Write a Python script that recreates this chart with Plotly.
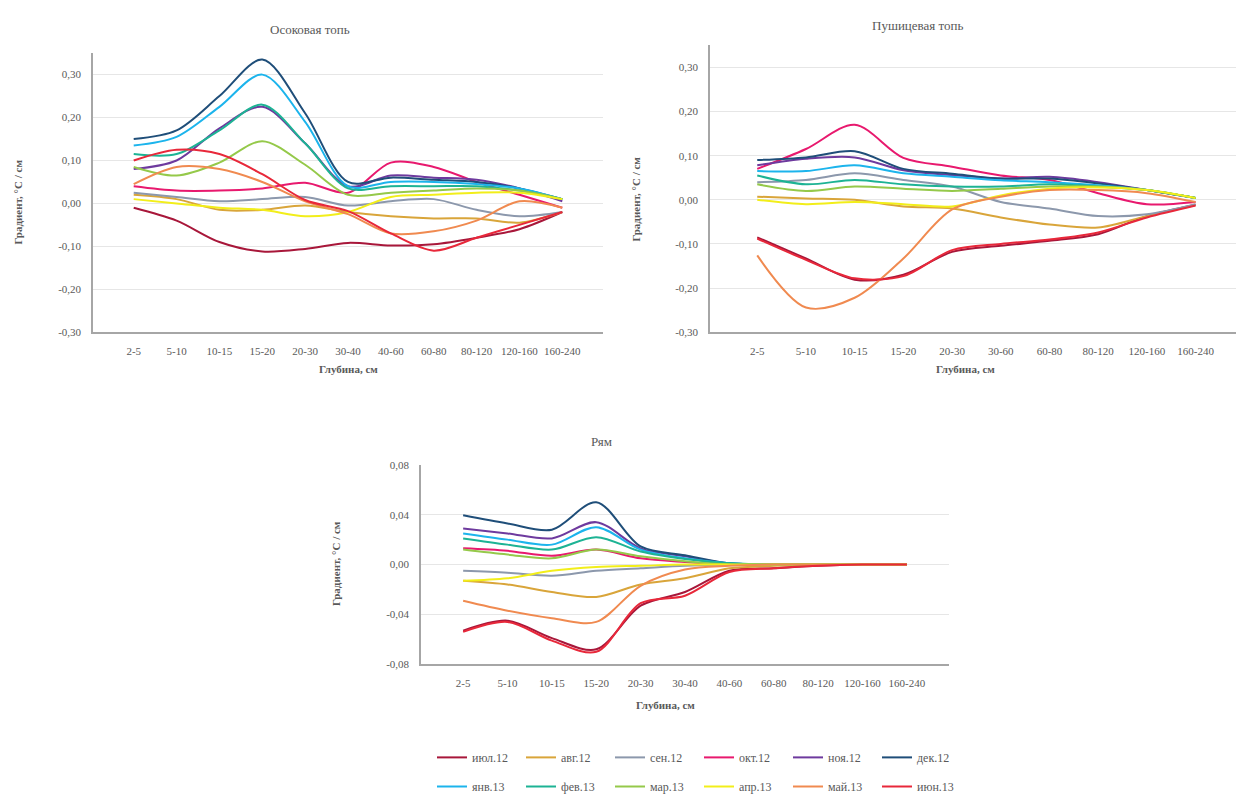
import plotly.graph_objects as go

# ---------------- data ----------------
months = ["июл.12", "авг.12", "сен.12", "окт.12", "ноя.12", "дек.12",
          "янв.13", "фев.13", "мар.13", "апр.13", "май.13", "июн.13"]
colors = ["#A8173A", "#D9A53A", "#8C98AC", "#E8196E", "#6E3A9E", "#1F4E79",
          "#1CB4EC", "#1DB394", "#95C94A", "#F2EE1A", "#F08A50", "#E8283A"]

depth_sedge = ["2-5", "5-10", "10-15", "15-20", "20-30", "30-40", "40-60",
               "60-80", "80-120", "120-160", "160-240"]
depth_cotton = ["2-5", "5-10", "10-15", "15-20", "20-30", "30-60", "60-80",
                "80-120", "120-160", "160-240"]
depth_ryam = ["2-5", "5-10", "10-15", "15-20", "20-30", "30-40", "40-60",
              "60-80", "80-120", "120-160", "160-240"]

# Осоковая топь
sedge_jul12 = [-0.01, -0.04, -0.09, -0.112, -0.106, -0.092, -0.098, -0.095, -0.08, -0.06, -0.02]
sedge_aug12 = [0.02, 0.01, -0.015, -0.015, -0.005, -0.02, -0.03, -0.035, -0.035, -0.045, -0.02]
sedge_sep12 = [0.025, 0.015, 0.005, 0.01, 0.015, -0.005, 0.005, 0.01, -0.015, -0.03, -0.02]
sedge_oct12 = [0.04, 0.03, 0.03, 0.035, 0.048, 0.025, 0.095, 0.085, 0.05, 0.02, -0.01]
sedge_nov12 = [0.08, 0.10, 0.175, 0.225, 0.14, 0.04, 0.065, 0.06, 0.055, 0.035, 0.005]
sedge_dec12 = [0.15, 0.17, 0.25, 0.335, 0.21, 0.05, 0.06, 0.055, 0.05, 0.035, 0.01]
sedge_jan13 = [0.135, 0.155, 0.225, 0.30, 0.19, 0.04, 0.05, 0.05, 0.045, 0.035, 0.01]
sedge_feb13 = [0.115, 0.115, 0.17, 0.23, 0.14, 0.035, 0.04, 0.04, 0.04, 0.03, 0.01]
sedge_mar13 = [0.085, 0.065, 0.095, 0.145, 0.09, 0.02, 0.025, 0.03, 0.035, 0.03, 0.01]
sedge_apr13 = [0.01, 0.0, -0.01, -0.015, -0.03, -0.02, 0.015, 0.02, 0.025, 0.025, 0.01]
sedge_may13 = [0.045, 0.085, 0.08, 0.05, 0.005, -0.025, -0.07, -0.065, -0.04, 0.005, -0.01]
sedge_jun13 = [0.10, 0.125, 0.115, 0.068, 0.008, -0.018, -0.07, -0.11, -0.08, -0.05, -0.02]

# Пушицевая топь
cotton_jul12 = [-0.085, -0.133, -0.181, -0.17, -0.118, -0.104, -0.093, -0.078, -0.037, -0.011]
cotton_aug12 = [0.007, 0.003, 0.0, -0.015, -0.02, -0.04, -0.056, -0.063, -0.037, -0.012]
cotton_sep12 = [0.04, 0.045, 0.06, 0.045, 0.03, -0.005, -0.02, -0.037, -0.033, -0.01]
cotton_oct12 = [0.07, 0.115, 0.17, 0.095, 0.075, 0.055, 0.045, 0.015, -0.01, -0.005]
cotton_nov12 = [0.078, 0.093, 0.096, 0.067, 0.056, 0.048, 0.052, 0.04, 0.022, 0.004]
cotton_dec12 = [0.09, 0.096, 0.11, 0.07, 0.059, 0.048, 0.048, 0.037, 0.022, 0.004]
cotton_jan13 = [0.065, 0.065, 0.078, 0.06, 0.052, 0.044, 0.04, 0.033, 0.022, 0.004]
cotton_feb13 = [0.055, 0.035, 0.045, 0.035, 0.03, 0.03, 0.035, 0.03, 0.022, 0.004]
cotton_mar13 = [0.035, 0.02, 0.03, 0.025, 0.02, 0.025, 0.03, 0.03, 0.022, 0.004]
cotton_apr13 = [0.0, -0.01, -0.005, -0.01, -0.015, 0.01, 0.025, 0.028, 0.022, 0.004]
cotton_may13 = [-0.126, -0.244, -0.222, -0.133, -0.022, 0.007, 0.022, 0.022, 0.015, -0.005]
cotton_jun13 = [-0.088, -0.136, -0.178, -0.173, -0.114, -0.1, -0.09, -0.074, -0.04, -0.013]

# Рям
ryam_jul12 = [-0.053, -0.045, -0.059, -0.068, -0.033, -0.022, -0.005, -0.003, -0.001, 0.0, 0.0]
ryam_aug12 = [-0.013, -0.016, -0.022, -0.026, -0.016, -0.011, -0.003, -0.001, 0.0, 0.0, 0.0]
ryam_sep12 = [-0.005, -0.0066, -0.009, -0.005, -0.003, -0.001, 0.0, 0.0, 0.0, 0.0, 0.0]
ryam_oct12 = [0.013, 0.011, 0.007, 0.012, 0.005, 0.002, 0.0, 0.0, 0.0, 0.0, 0.0]
ryam_nov12 = [0.029, 0.025, 0.021, 0.034, 0.013, 0.0066, 0.001, 0.0, 0.0, 0.0, 0.0]
ryam_dec12 = [0.0395, 0.033, 0.028, 0.050, 0.0145, 0.0075, 0.001, 0.0, 0.0, 0.0, 0.0]
ryam_jan13 = [0.025, 0.02, 0.016, 0.03, 0.012, 0.005, 0.001, 0.0, 0.0, 0.0, 0.0]
ryam_feb13 = [0.021, 0.016, 0.012, 0.022, 0.0105, 0.0045, 0.001, 0.0, 0.0, 0.0, 0.0]
ryam_mar13 = [0.012, 0.008, 0.005, 0.012, 0.0066, 0.0026, 0.0, 0.0, 0.0, 0.0, 0.0]
ryam_apr13 = [-0.013, -0.011, -0.005, -0.002, -0.001, 0.0, 0.0, 0.0, 0.0, 0.0, 0.0]
ryam_may13 = [-0.029, -0.037, -0.043, -0.046, -0.017, -0.004, -0.001, 0.0, 0.0, 0.0, 0.0]
ryam_jun13 = [-0.054, -0.046, -0.061, -0.070, -0.031, -0.025, -0.006, -0.003, -0.001, 0.0, 0.0]

sedge = [sedge_jul12, sedge_aug12, sedge_sep12, sedge_oct12, sedge_nov12, sedge_dec12,
         sedge_jan13, sedge_feb13, sedge_mar13, sedge_apr13, sedge_may13, sedge_jun13]
cotton = [cotton_jul12, cotton_aug12, cotton_sep12, cotton_oct12, cotton_nov12, cotton_dec12,
          cotton_jan13, cotton_feb13, cotton_mar13, cotton_apr13, cotton_may13, cotton_jun13]
ryam = [ryam_jul12, ryam_aug12, ryam_sep12, ryam_oct12, ryam_nov12, ryam_dec12,
        ryam_jan13, ryam_feb13, ryam_mar13, ryam_apr13, ryam_may13, ryam_jun13]

ticks_big = [-0.3, -0.2, -0.1, 0.0, 0.1, 0.2, 0.3]
ticks_big_text = ["-0,30", "-0,20", "-0,10", "0,00", "0,10", "0,20", "0,30"]
ticks_small = [-0.08, -0.04, 0.0, 0.04, 0.08]
ticks_small_text = ["-0,08", "-0,04", "0,00", "0,04", "0,08"]

titles = ["Осоковая топь", "Пушицевая топь", "Рям"]
ytitle = "Градиент, °С / см"
xtitle = "Глубина, см"

# ---------------- figure ----------------
W, H = 1236, 801
FONT = "Liberation Serif"
TXT = "#595959"

def px_x(p):
    return p / W

def px_y(p):
    return 1 - p / H

fig = go.Figure()

panels = [
    (depth_sedge, sedge, "x", "y"),
    (depth_cotton, cotton, "x2", "y2"),
    (depth_ryam, ryam, "x3", "y3"),
]
for pi, (cats, series, xa, ya) in enumerate(panels):
    for mi, vals in enumerate(series):
        fig.add_trace(go.Scatter(
            x=cats, y=vals, mode="lines", name=months[mi],
            line=dict(color=colors[mi], width=2, shape="spline", smoothing=0.9),
            xaxis=xa, yaxis=ya,
            showlegend=(pi == 0),
            legend="legend" if mi < 6 else "legend2",
            hoverinfo="skip",
        ))

axis_common = dict(showline=True, linecolor="#A6A6A6", linewidth=1.5,
                   ticks="", zeroline=False, mirror=False,
                   tickfont=dict(family=FONT, size=11, color=TXT))

fig.update_layout(
    width=W, height=H, autosize=False,
    margin=dict(l=0, r=0, t=0, b=0),
    paper_bgcolor="white", plot_bgcolor="white",
    font=dict(family=FONT, color=TXT),
    xaxis=dict(domain=[px_x(93), px_x(603)], anchor="y", type="category",
               range=[-0.95, 10.95], showgrid=False, ticklabelstandoff=8, **axis_common),
    yaxis=dict(domain=[px_y(332), px_y(48)], anchor="x", range=[-0.3, 0.35],
               tickvals=ticks_big, ticktext=ticks_big_text, showgrid=True,
               gridcolor="#E6E6E6", gridwidth=1, ticklabelstandoff=8, **axis_common),
    xaxis2=dict(domain=[px_x(710), 1.0], anchor="y2", type="category",
                range=[-0.97, 9.83], showgrid=False, ticklabelstandoff=8, **axis_common),
    yaxis2=dict(domain=[px_y(332), px_y(40)], anchor="x2", range=[-0.3, 0.35],
                tickvals=ticks_big, ticktext=ticks_big_text, showgrid=True,
                gridcolor="#E6E6E6", gridwidth=1, ticklabelstandoff=8, **axis_common),
    xaxis3=dict(domain=[px_x(421), px_x(949)], anchor="y3", type="category",
                range=[-0.95, 10.95], showgrid=False, ticklabelstandoff=8, **axis_common),
    yaxis3=dict(domain=[px_y(670), px_y(467)], anchor="x3", range=[-0.08, 0.08],
                tickvals=ticks_small, ticktext=ticks_small_text, showgrid=True,
                gridcolor="#E6E6E6", gridwidth=1, ticklabelstandoff=8, **axis_common),
    legend=dict(orientation="h", x=px_x(432), y=px_y(750), xanchor="left", yanchor="top",
                entrywidth=44, entrywidthmode="pixels", bgcolor="rgba(0,0,0,0)",
                font=dict(family=FONT, size=12, color=TXT), tracegroupgap=0),
    legend2=dict(orientation="h", x=px_x(432), y=px_y(780), xanchor="left", yanchor="top",
                 entrywidth=44, entrywidthmode="pixels", bgcolor="rgba(0,0,0,0)",
                 font=dict(family=FONT, size=12, color=TXT), tracegroupgap=0),
)

ann = []
# panel titles
for t, (cx, cy) in zip(titles, [(310, 24), (918, 20), (601, 443)]):
    ann.append(dict(text=t, x=px_x(cx), y=px_y(cy), xref="paper", yref="paper",
                    showarrow=False, xanchor="center", yanchor="middle",
                    font=dict(family=FONT, size=13, color=TXT)))
# x axis titles
for cx, cy in [(348, 369), (965, 369), (665, 711)]:
    ann.append(dict(text="<b>" + xtitle + "</b>", x=px_x(cx), y=px_y(cy), xref="paper",
                    yref="paper", showarrow=False, xanchor="center", yanchor="middle",
                    font=dict(family=FONT, size=11, color=TXT)))
# y axis titles
for cx, cy in [(18, 200), (636, 197), (336, 568)]:
    ann.append(dict(text="<b>" + ytitle + "</b>", x=px_x(cx), y=px_y(cy), xref="paper",
                    yref="paper", showarrow=False, xanchor="center", yanchor="middle",
                    textangle=-90, font=dict(family=FONT, size=11, color=TXT)))
fig.update_layout(annotations=ann)

fig.write_html(
    "out.html",
    config={"responsive": False, "displayModeBar": False},
    post_script="document.body.style.margin='0';document.body.style.overflow='hidden';",
)
